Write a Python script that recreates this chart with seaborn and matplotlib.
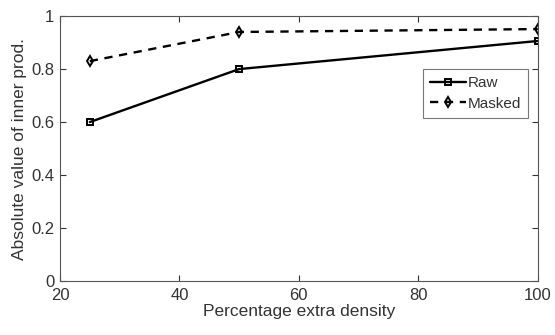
import matplotlib
matplotlib.use("Agg")
import matplotlib.pyplot as plt
import seaborn as sns
import pandas as pd

x_vals = [25, 50, 100]
raw_vals = [0.60, 0.80, 0.906]
masked_vals = [0.83, 0.94, 0.951]
series_names = ["Raw", "Masked"]

sns.set_theme(style="white")
plt.rcParams['font.family'] = ['Liberation Sans', 'DejaVu Sans']

df = pd.DataFrame({
    "x": x_vals * 2,
    "y": raw_vals + masked_vals,
    "series": [series_names[0]] * 3 + [series_names[1]] * 3,
})

fig = plt.figure(figsize=(5.55, 3.35), dpi=100)
ax = fig.add_axes([0.108, 0.161, 0.861, 0.791])

sns.lineplot(data=df, x="x", y="y", style="series", hue="series",
             palette=["black", "black"], dashes={"Raw": "", "Masked": (3.5, 2.8)},
             markers={"Raw": "s", "Masked": "d"}, markersize=5,
             markerfacecolor="none", markeredgecolor="black", markeredgewidth=1.4,
             linewidth=1.7, ax=ax)

ax.set_xlim(20, 100)
ax.set_ylim(0, 1)
ax.set_xticks([20, 40, 60, 80, 100])
ax.set_yticks([0, 0.2, 0.4, 0.6, 0.8, 1])
ax.set_yticklabels(["0", "0.2", "0.4", "0.6", "0.8", "1"])
ax.set_xlabel("Percentage extra density", fontsize=12.5, color="#333333", labelpad=1)
ax.set_ylabel("Absolute value of inner prod.", fontsize=12.5, color="#333333", labelpad=3)
ax.tick_params(direction="in", length=4, width=0.8, colors="#333333", labelsize=12,
               top=True, right=True, bottom=True, left=True,
               labeltop=False, labelright=False)
ax.tick_params(axis="x", pad=5)
ax.tick_params(axis="y", pad=4)
for s in ax.spines.values():
    s.set_color("#555555")
    s.set_linewidth(0.8)

leg = ax.legend(loc="upper right", bbox_to_anchor=(0.98, 0.80), fontsize=11,
                frameon=True, fancybox=False, edgecolor="#555555",
                handlelength=2.4, handletextpad=0.1, borderpad=0.45, labelspacing=0.45,
                borderaxespad=0)
leg.get_frame().set_linewidth(0.8)
for t in leg.get_texts():
    t.set_color("#333333")

fig.savefig("out.png", dpi=100)
